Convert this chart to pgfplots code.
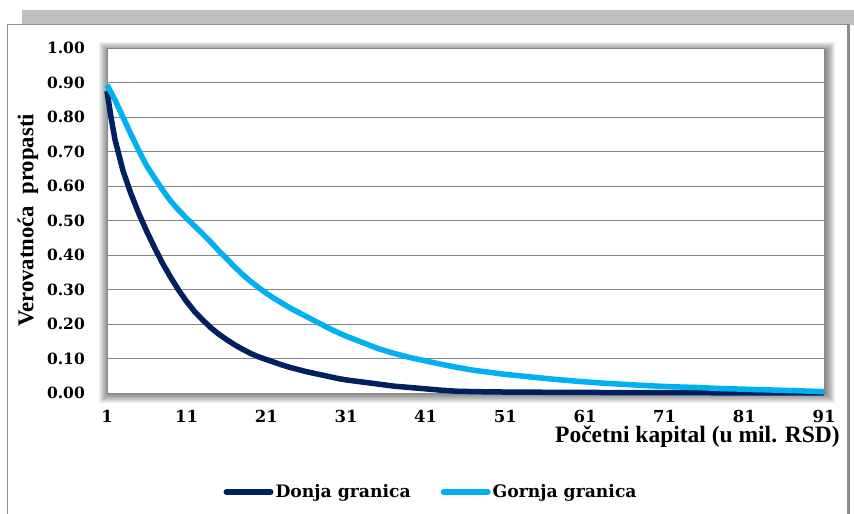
\documentclass[border=0pt]{standalone}
\usepackage{fontspec}
\setmainfont{Liberation Serif}
\newfontfamily\dejavu{DejaVu Serif}
\usepackage{pgfplots}
\usepackage{pgfplotstable}
\pgfplotsset{compat=1.18}

\definecolor{donja}{HTML}{002060}
\definecolor{gornja}{HTML}{00B0F0}
\definecolor{gridgray}{HTML}{868686}
\definecolor{bandgray}{HTML}{BFBFBF}
\definecolor{framegray}{HTML}{8C8C8C}

% lower bound of ruin probability
\pgfplotstableread{
x y
1 0.875
1.5 0.800
2 0.735
3 0.645
4 0.578
5 0.520
6 0.468
7 0.420
8 0.375
9 0.335
10 0.298
11 0.265
12 0.236
13 0.212
14 0.190
15 0.171
16 0.155
17 0.140
18 0.127
19 0.115
20 0.105
21 0.097
22 0.089
23 0.081
24 0.074
25 0.068
26 0.062
27 0.057
28 0.052
29 0.047
30 0.042
31 0.038
33 0.032
35 0.026
37 0.020
39 0.016
41 0.012
43 0.008
45 0.005
47 0.004
50 0.003
53 0.0025
57 0.002
62 0.0015
70 0.001
80 0.0006
91 0.0003
}\donjatable

% upper bound of ruin probability
\pgfplotstableread{
x y
1 0.893
2 0.850
3 0.800
4 0.750
5 0.702
6 0.658
7 0.622
8 0.588
9 0.556
10 0.530
11 0.506
12 0.484
13 0.461
14 0.438
15 0.413
16 0.390
17 0.366
18 0.344
19 0.324
20 0.306
21 0.289
22 0.274
23 0.260
24 0.246
25 0.234
26 0.222
27 0.210
28 0.198
29 0.186
30 0.175
31 0.165
33 0.147
35 0.129
37 0.115
39 0.103
41 0.093
43 0.083
45 0.074
47 0.066
49 0.060
51 0.054
54 0.047
57 0.040
60 0.034
63 0.029
66 0.025
69 0.021
72 0.018
75 0.016
78 0.013
81 0.011
84 0.009
87 0.007
91 0.004
}\gornjatable

\begin{document}
\begin{tikzpicture}[x=1pt,y=1pt]
% band above the chart frame and the frame itself
\fill[bandgray] (-85,368) rectangle (747,383);
\draw[framegray, line width=1pt] (-99,-121) -- (-99,368) -- (741,368);
\draw[framegray, line width=2.5pt] (741.5,368.5) -- (741.5,-121);
% soft shadow around the plot area
\foreach \i in {1,...,9}{
  \fill[black, opacity=0.06] (-\i+1,-\i-1) rectangle (717+\i+2,345+\i-3);
}
\begin{axis}[
  at={(0,0)}, anchor=south west,
  scale only axis, width=717pt, height=345pt,
  xmin=1, xmax=91, ymin=0, ymax=1,
  clip=false,
  axis background/.style={fill=white},
  axis line style={draw=gridgray, line width=0.8pt},
  major tick length=0pt,
  xtick={1,11,21,31,41,51,61,71,81,91},
  xticklabels={1,11,21,31,41,51,61,71,81,91},
  ytick={0,0.1,0.2,0.3,0.4,0.5,0.6,0.7,0.8,0.9,1},
  yticklabels={0.00,0.10,0.20,0.30,0.40,0.50,0.60,0.70,0.80,0.90,1.00},
  ymajorgrids,
  major grid style={draw=gridgray, line width=0.8pt},
  /pgf/number format/assume math mode=true,
  xticklabel style={font=\dejavu\bfseries\fontsize{16.5}{19}\selectfont, anchor=base, yshift=-29pt, inner sep=0pt},
  yticklabel style={font=\dejavu\bfseries\fontsize{15.5}{18}\selectfont, anchor=east, xshift=-22pt, inner sep=0pt},
  every axis x label/.style={at={(1.0223,-0.1440)}, anchor=base east, font=\bfseries\fontsize{23.5}{28}\selectfont, inner sep=0pt},
  every axis y label/.style={at={(-0.1028,0.5)}, anchor=base, rotate=90, font=\bfseries\fontsize{22.7}{27}\selectfont, inner sep=0pt},
  xlabel={Početni kapital (u mil. RSD)},
  ylabel={Verovatnoća\ \ propasti},
  legend columns=2,
  legend style={at={(0.452,-0.287)}, anchor=center, draw=none, fill=none,
    font=\dejavu\bfseries\fontsize{17.2}{20}\selectfont,
    /tikz/every even column/.append style={column sep=28pt}},
  legend image code/.code={\draw[#1, line width=6pt, line cap=round] (0pt,0pt) -- (44pt,0pt);},
]
\addplot[donja, line width=5.5pt, line join=round] table {\donjatable};
\addlegendentry{Donja granica}
\addplot[gornja, line width=5.5pt, line join=round] table {\gornjatable};
\addlegendentry{Gornja granica}
\end{axis}
\pgfresetboundingbox
\useasboundingbox (-107,-121) rectangle (747,393);
\end{tikzpicture}
\end{document}
